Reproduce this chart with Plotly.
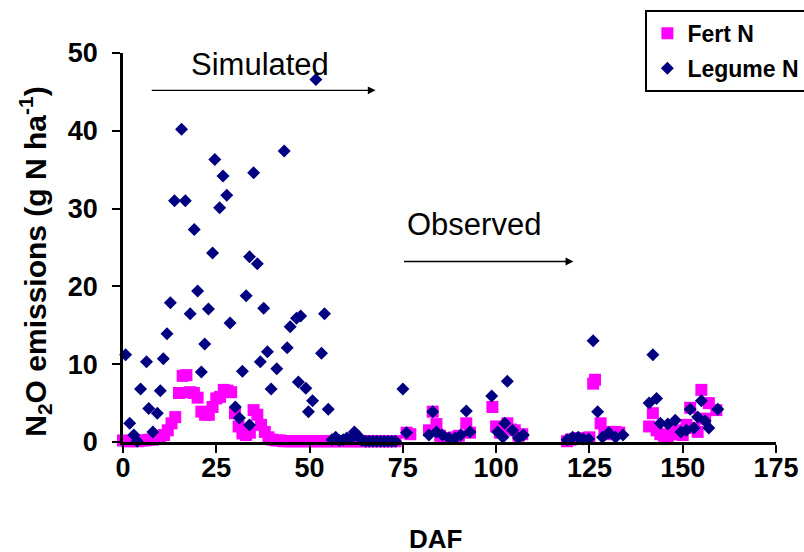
import plotly.graph_objects as go

# Fert N (days after fertilisation, N2O g N/ha)
fert_days = [0, 1, 2, 3, 4, 5, 6, 7, 8, 9, 10, 11, 12, 13, 14, 15, 16, 17, 18, 19,
             20, 21, 22, 23, 24, 25, 26, 27, 28, 29, 30, 31, 32, 33, 34, 35, 36, 37, 38, 39,
             40, 41, 42, 43, 44, 45, 46, 47, 48, 49, 50, 51, 52, 53, 54, 55, 56, 57, 58, 59,
             60, 61, 62, 63, 64, 65, 66, 67, 68, 69, 70, 71, 72, 73,
             76, 77, 82, 83, 84, 85, 86, 87, 88, 89, 90, 92, 93,
             99, 100, 101, 103, 104, 105, 106, 107,
             119, 120, 121, 122, 123, 124, 125, 126, 126.5, 128, 129, 130, 131, 132, 133,
             141, 142, 143, 144, 145, 146, 147, 148, 149, 150, 151, 152, 153, 154, 155, 156, 157, 159]
fert_vals = [0.2, 0.1, 0.1, 0.2, 0.1, 0.2, 0.2, 0.3, 0.3, 0.4, 0.6, 0.9, 1.5, 2.4, 3.2, 6.3, 8.5, 8.6, 6.4, 6.3,
             5.7, 3.9, 3.5, 3.5, 4.5, 5.6, 5.8, 6.7, 6.6, 6.4, 3.7, 2.0, 1.1, 0.9, 1.2, 4.1, 3.5, 2.2, 1.3, 0.6,
             0.3, 0.2, 0.2, 0.1, 0.1, 0.1, 0.1, 0.1, 0.1, 0.1, 0.1, 0.1, 0.1, 0.1, 0.1, 0.1, 0.1, 0.1, 0.1, 0.1,
             0.1, 0.1, 0.1, 0.1, 0.1, 0.1, 0.1, 0.1, 0.1, 0.1, 0.1, 0.1, 0.1, 0.1,
             1.2, 1.0, 1.5, 3.9, 2.3, 0.8, 0.5, 0.5, 0.5, 0.6, 0.8, 2.4, 1.2,
             4.5, 2.0, 1.2, 2.4, 1.6, 1.5, 0.8, 1.0,
             0.1, 0.3, 0.4, 0.5, 0.4, 0.4, 0.6, 7.5, 8.0, 2.4, 1.2, 1.3, 1.0, 1.3, 1.2,
             2.0, 3.7, 1.5, 1.0, 0.8, 0.7, 1.0, 1.5, 1.2, 0.9, 2.2, 4.4, 1.8, 1.3, 6.7, 3.0, 5.0, 4.1]

# Legume N
legume_days = [0.7, 1.8, 2.9, 3.8, 4.7, 6.3, 6.9, 8.0, 9.2, 10.0, 10.8, 11.8, 12.7, 13.8, 15.7, 16.7,
               18.0, 19.1, 20.0, 21.0, 21.9, 22.9, 24.0, 24.6, 25.9, 26.8, 27.8, 28.7, 30.1, 31.2,
               32.0, 33.0, 33.9, 33.9, 35.0, 36.0, 36.8, 37.7, 38.7, 39.7, 41.2, 43.2, 44.0, 44.8,
               46.5, 47.0, 47.6, 49.0, 49.7, 50.8, 51.7, 53.2, 54.0, 55.0,
               56, 57, 58, 59, 60, 61, 62, 63, 64, 65, 66, 67, 68, 69, 70, 71, 72, 73,
               75, 76, 82, 83, 84, 85.6, 87.3, 89, 90.5, 92, 93, 98.8, 100.4, 101.8, 102.3, 103,
               104.4, 106, 107.3,
               119, 120.5, 122, 123.3, 124.8, 126, 127.2, 128.5, 130.2, 132, 134,
               141, 142, 143, 144, 146, 148, 149.5, 151, 152, 153, 154, 155, 156, 157, 159.4]
legume_vals = [11.2, 2.4, 0.9, 0.1, 6.8, 10.3, 4.3, 1.3, 3.7, 6.6, 10.7, 13.9, 17.9, 31.0, 40.2, 31.0,
               16.5, 27.3, 19.4, 9.0, 12.6, 17.1, 24.3, 36.3, 30.1, 34.2, 31.7, 15.3, 4.5, 3.1,
               9.1, 18.8, 2.2, 23.8, 34.6, 22.9, 10.3, 17.2, 11.6, 6.8, 9.4, 37.4, 12.1, 14.8,
               15.9, 7.7, 16.2, 6.9, 3.9, 5.3, 46.6, 11.4, 16.5, 4.2,
               0.3, 0.6, 0.2, 0.3, 0.5, 0.4, 1.3, 0.8, 0.2, 0.1, 0.1, 0.1, 0.1, 0.1, 0.1, 0.1, 0.1, 0.1,
               6.8, 1.2, 0.9, 3.9, 1.3, 0.9, 0.5, 0.5, 0.9, 4.0, 1.3, 5.9, 1.3, 0.6, 2.4, 7.8,
               1.5, 0.5, 0.9,
               0.3, 0.6, 0.6, 0.4, 0.4, 13.0, 3.9, 0.6, 1.2, 0.6, 0.9,
               5.0, 11.2, 5.6, 2.4, 2.3, 2.8, 1.3, 1.5, 4.2, 1.8, 3.2, 5.3, 2.7, 1.8, 4.2]

x_ticks = [0, 25, 50, 75, 100, 125, 150, 175]
y_ticks = [0, 10, 20, 30, 40, 50]

FONT = "Arial, Liberation Sans, sans-serif"

fig = go.Figure()
fig.add_trace(go.Scatter(
    x=fert_days, y=fert_vals, mode="markers", name="<b>Fert N</b>",
    legendgroup="a",
    marker=dict(symbol="square", size=12, color="#FF00FF"),
    cliponaxis=False,
))
fig.add_trace(go.Scatter(
    x=legume_days, y=legume_vals, mode="markers", name="<b>Legume N</b>",
    legendgroup="b",
    marker=dict(symbol="diamond", size=10, color="#000080"),
    cliponaxis=False,
))

axis_common = dict(
    showgrid=False, zeroline=False, showline=True, linecolor="black", linewidth=2.5,
    ticks="outside", ticklen=8, tickwidth=2, tickcolor="black",
    tickfont=dict(family=FONT, size=27, color="black", weight="bold"),
)
fig.update_xaxes(range=[0, 175], tickvals=x_ticks, ticklabelstandoff=-8, **axis_common)
fig.update_yaxes(range=[0, 50], tickvals=y_ticks, ticklabelstandoff=9, **axis_common)

fig.update_layout(
    width=804, height=552,
    margin=dict(l=123, r=28, t=53, b=110, autoexpand=False),
    paper_bgcolor="white", plot_bgcolor="white",
    font=dict(family=FONT, color="black"),
    showlegend=True,
    legend=dict(
        x=0.80, y=1.111, xanchor="left", yanchor="top",
        bgcolor="white", bordercolor="black", borderwidth=2,
        font=dict(family=FONT, size=23, color="black"),
        traceorder="grouped", tracegroupgap=2, itemwidth=30,
    ),
    annotations=[
        dict(text="Simulated", x=36.6, y=48.5, xref="x", yref="y", showarrow=False,
             font=dict(family=FONT, size=31, color="black")),
        dict(text="", x=67.7, y=45.2, ax=7.3, ay=45.2, xref="x", yref="y", axref="x", ayref="y",
             showarrow=True, arrowhead=2, arrowsize=1.2, arrowwidth=1.3, arrowcolor="black"),
        dict(text="Observed", x=94, y=27.9, xref="x", yref="y", showarrow=False,
             font=dict(family=FONT, size=31, color="black")),
        dict(text="", x=120.7, y=23.2, ax=74.9, ay=23.2, xref="x", yref="y", axref="x", ayref="y",
             showarrow=True, arrowhead=2, arrowsize=1.2, arrowwidth=1.3, arrowcolor="black"),
        dict(text="<b>DAF</b>", x=0.479, y=-0.249, xref="paper", yref="paper", showarrow=False,
             xanchor="center", yanchor="middle", font=dict(family=FONT, size=26, color="black")),
        dict(text="<b>N<sub>2</sub>O emissions (g N ha<sup>-1</sup>)</b>", x=-0.135, y=0.463,
             xref="paper", yref="paper", showarrow=False, textangle=-90,
             xanchor="center", yanchor="middle", font=dict(family=FONT, size=30, color="black")),
    ],
)

fig.write_html("out.html", config={"displayModeBar": False},
               post_script="document.body.style.margin='0';document.body.style.padding='0';")
